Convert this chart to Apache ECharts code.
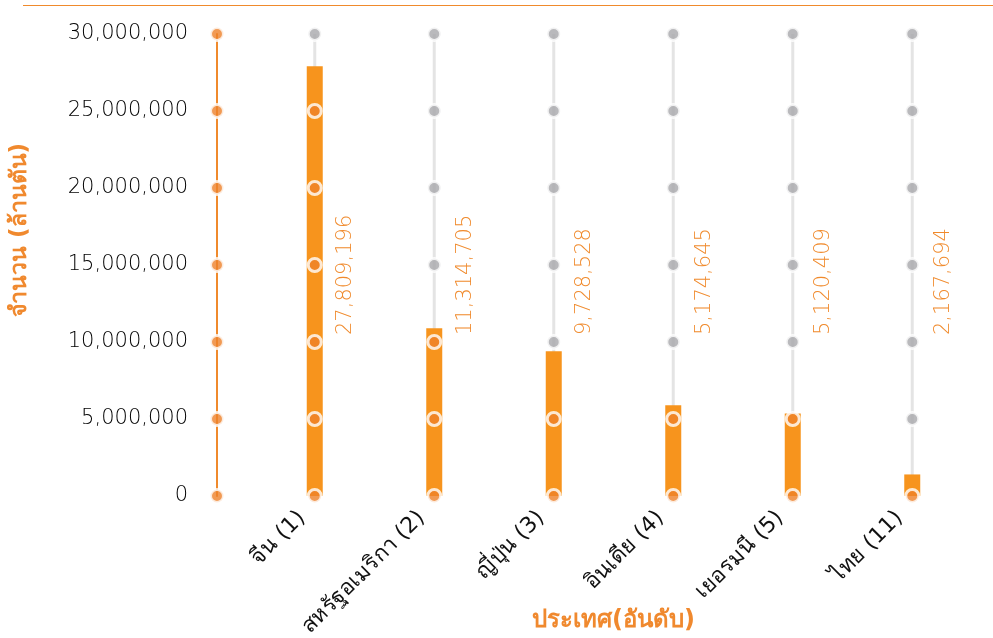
<!DOCTYPE html>
<html>
<head>
<meta charset="utf-8">
<script src="https://cdn.jsdelivr.net/npm/echarts@6/dist/echarts.min.js"></script>
<style>
  html, body { margin: 0; padding: 0; background: #fff; }
  #chart { width: 993px; height: 638px; }
</style>
</head>
<body>
<div id="chart"></div>
<script>
// countries (rank)
const categories = ['จีน (1)', 'สหรัฐอเมริกา (2)', 'ญี่ปุ่น (3)', 'อินเดีย (4)', 'เยอรมนี (5)', 'ไทย (11)']
// bar heights as drawn
const barValues = [27900000, 10900000, 9400000, 5900000, 5350000, 1400000]
// value labels as printed
const labelValues = ['27,809,196', '11,314,705', '9,728,528', '5,174,645', '5,120,409', '2,167,694']
const yTicks = [0, 5000000, 10000000, 15000000, 20000000, 25000000, 30000000]

const orange = '#F7941D'
const dotOrange = '#EE8129'
const gray = '#A7A7AB'
const font = "'DejaVu Sans', 'Noto Sans', sans-serif"

const chart = echarts.init(document.getElementById('chart'))

const yMax = yTicks[yTicks.length - 1]

const dotData = []
categories.forEach((c, i) => {
  yTicks.forEach(t => {
    dotData.push({
      value: [i, t],
      itemStyle: { color: t <= barValues[i] ? dotOrange : gray }
    })
  })
})

const option = {
  animation: false,
  grid: [
    { left: 255, right: 21, top: 34, bottom: 142, containLabel: false, outerBoundsMode: 'none' },
    { left: 217, width: 1, top: 34, bottom: 142, containLabel: false, outerBoundsMode: 'none' }
  ],
  xAxis: [
    {
      type: 'category',
      gridIndex: 0,
      data: categories,
      axisLine: { show: false },
      axisTick: { show: false },
      axisLabel: {
        rotate: 45,
        margin: 6,
        padding: [0, 18, 0, 0],
        interval: 0,
        color: '#111',
        fontSize: 22,
        fontFamily: font
      },
      name: 'ประเทศ(อันดับ)',
      nameLocation: 'middle',
      nameGap: 113,
      nameMoveOverlap: false,
      nameTextStyle: { color: '#F0892E', fontSize: 24, fontWeight: 'bold', fontFamily: font }
    },
    {
      type: 'category',
      gridIndex: 0,
      data: categories,
      show: false
    },
    {
      type: 'value',
      gridIndex: 1,
      min: 0,
      max: 1,
      show: false
    }
  ],
  yAxis: [
    {
      type: 'value',
      gridIndex: 0,
      min: 0,
      max: yMax,
      interval: 5000000,
      show: false,
      splitLine: { show: false }
    },
    {
      type: 'value',
      gridIndex: 1,
      min: 0,
      max: yMax,
      interval: 5000000,
      splitLine: { show: false },
      axisTick: { show: false },
      axisLine: { show: true, lineStyle: { color: '#F08A2C', width: 2 } },
      axisLabel: {
        margin: 29,
        color: '#000',
        fontSize: 21,
        fontWeight: 300,
        fontFamily: font,
        formatter: v => v.toLocaleString('en-US')
      }
    }
  ],
  graphic: [
    {
      type: 'rect',
      shape: { x: 23, y: 5, width: 970, height: 1 },
      style: { fill: '#F08A2C' }
    },
    {
      type: 'text',
      x: 20,
      y: 230,
      rotation: Math.PI / 2,
      style: {
        text: 'จำนวน (ล้านตัน)',
        fill: '#F0892E',
        font: 'bold 23px ' + font,
        align: 'center',
        verticalAlign: 'middle'
      }
    }
  ],
  series: [
    {
      name: 'track',
      type: 'bar',
      xAxisIndex: 1,
      yAxisIndex: 0,
      barWidth: 3,
      z: 1,
      data: categories.map(() => yMax),
      itemStyle: { color: '#E4E4E4' },
      label: {
        show: true,
        position: [32.5, 301],
        rotate: 90,
        align: 'left',
        verticalAlign: 'middle',
        color: '#F08A2C',
        fontSize: 21,
        fontWeight: 300,
        fontFamily: font,
        formatter: p => labelValues[p.dataIndex]
      }
    },
    {
      name: 'จำนวน',
      type: 'bar',
      xAxisIndex: 0,
      yAxisIndex: 0,
      barWidth: 16,
      z: 2,
      data: barValues,
      itemStyle: { color: orange }
    },
    {
      type: 'scatter',
      xAxisIndex: 0,
      yAxisIndex: 0,
      z: 3,
      symbolSize: 13,
      clip: false,
      data: dotData,
      itemStyle: { borderColor: '#fff', borderWidth: 3 }
    },
    {
      type: 'scatter',
      xAxisIndex: 2,
      yAxisIndex: 1,
      z: 3,
      symbolSize: 13,
      clip: false,
      data: yTicks.map(t => [0, t]),
      itemStyle: { color: dotOrange, borderColor: '#fff', borderWidth: 3 }
    }
  ]
}

chart.setOption(option)
</script>
</body>
</html>
